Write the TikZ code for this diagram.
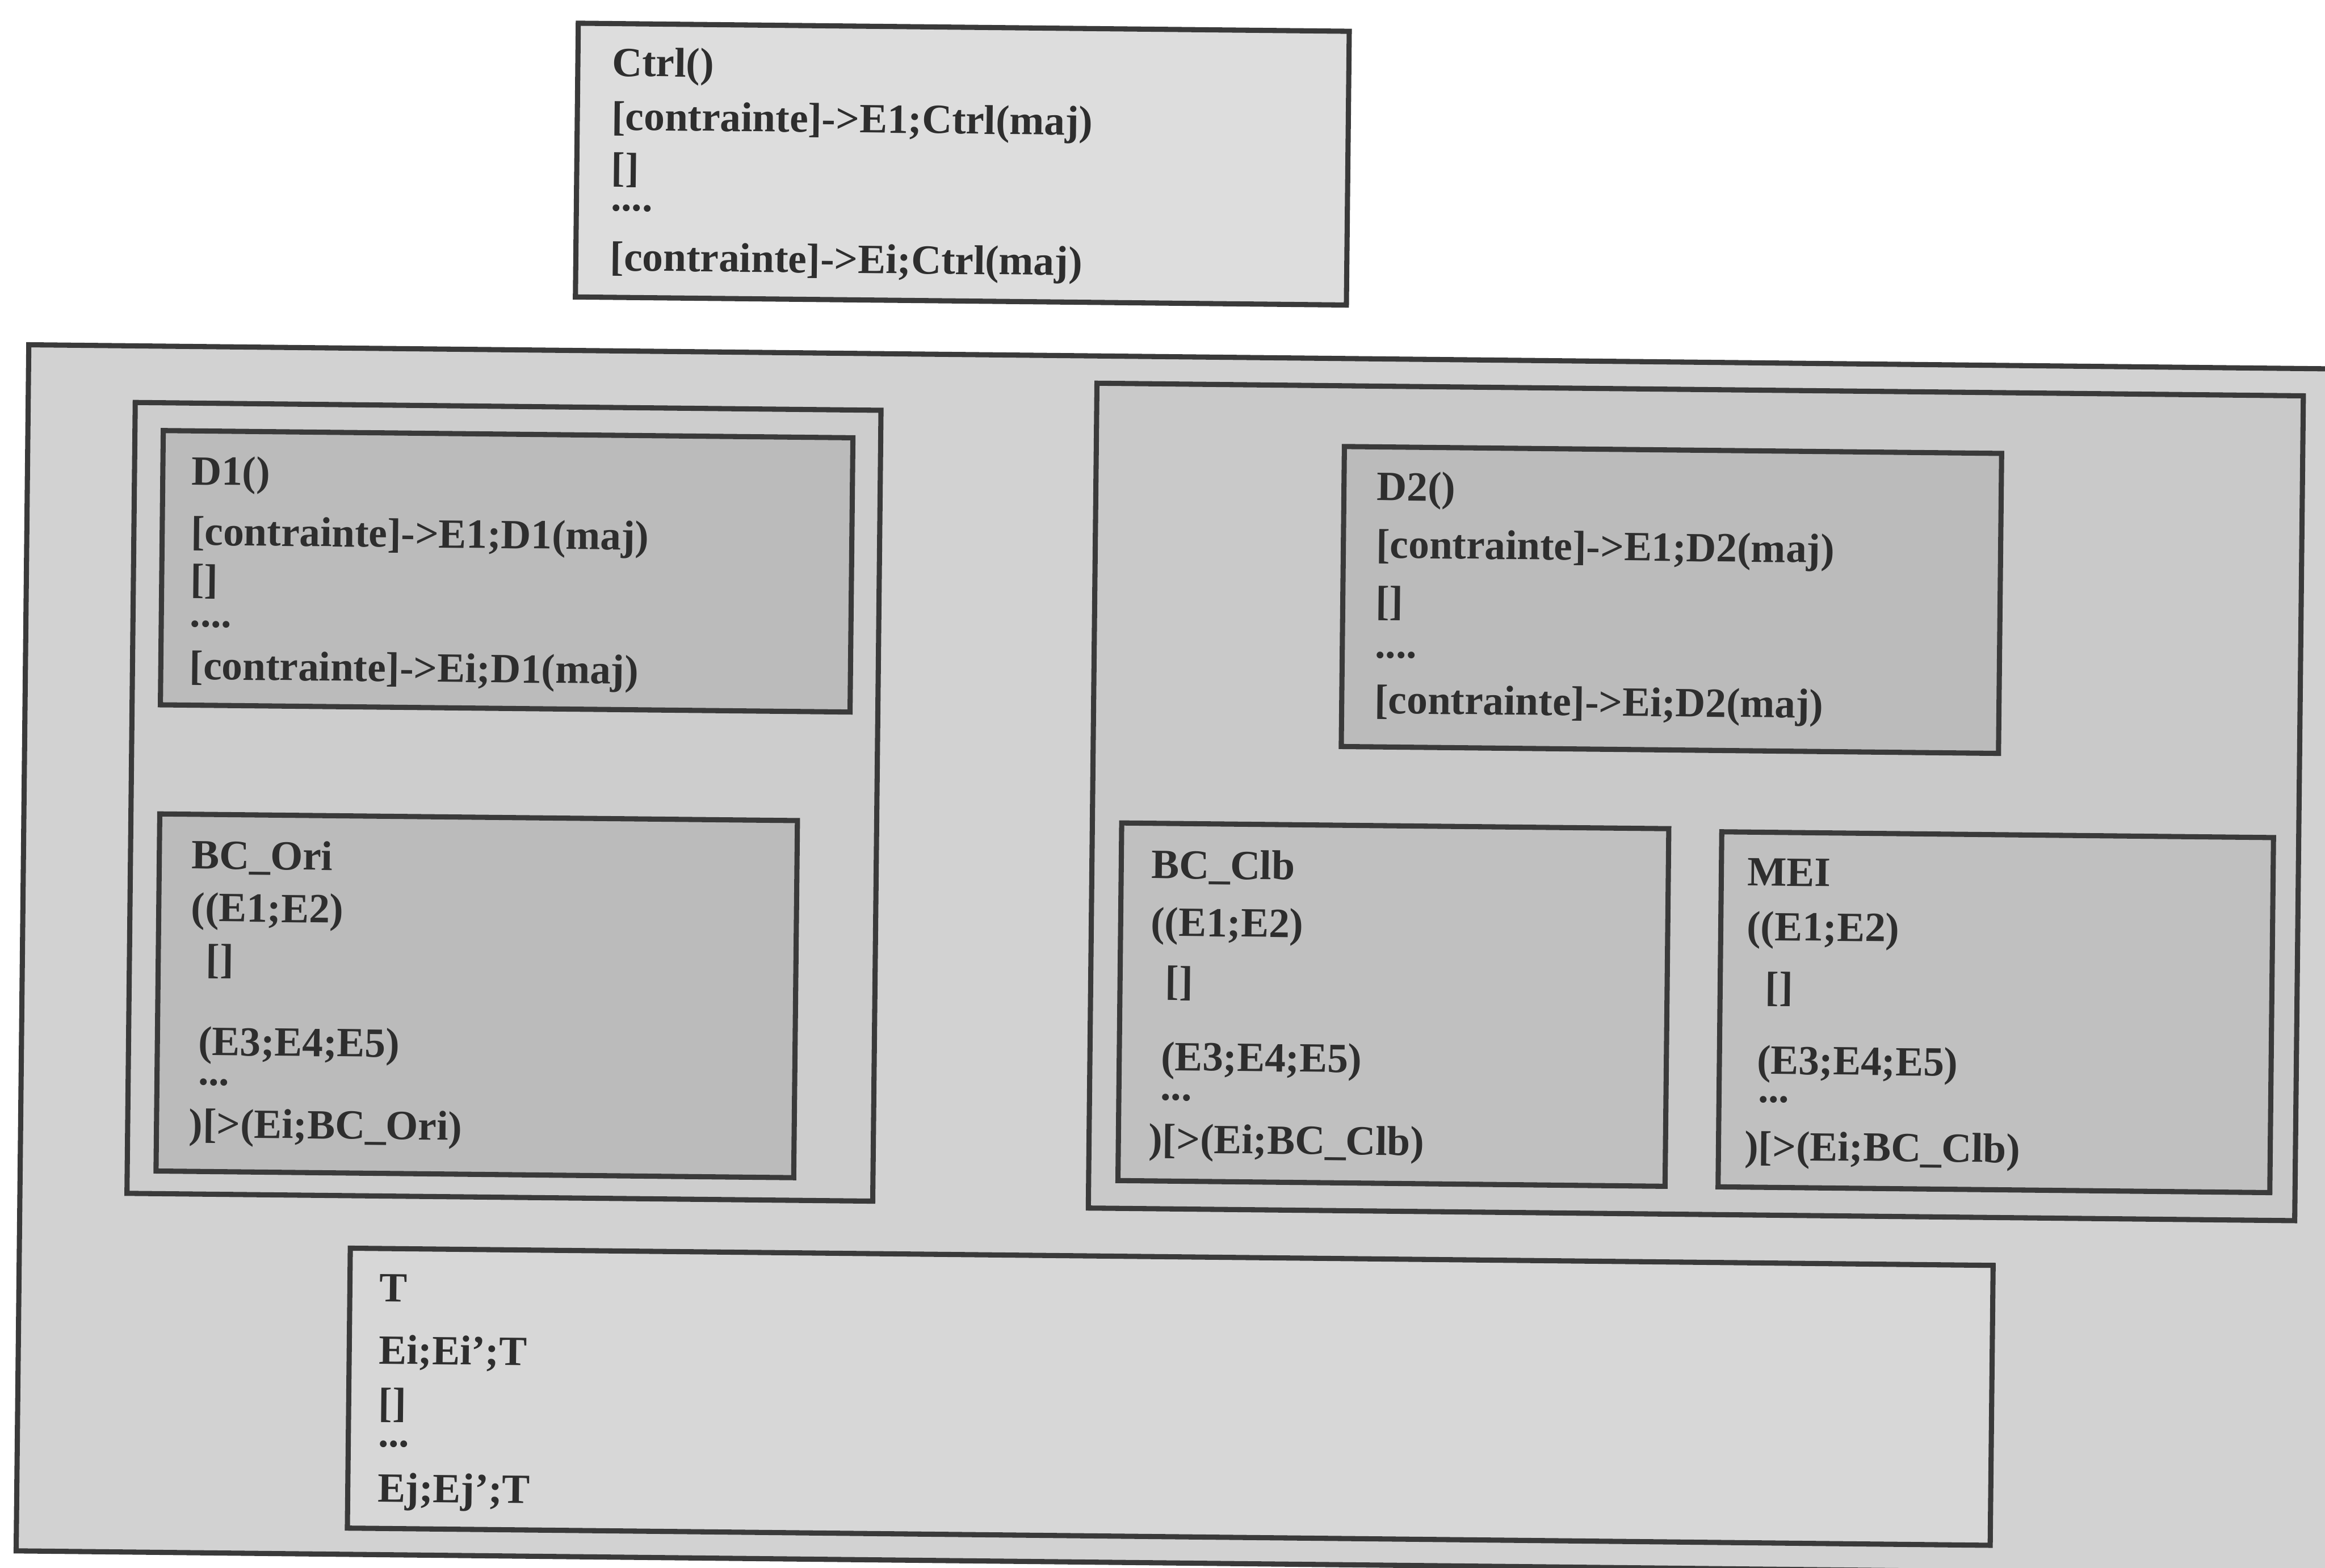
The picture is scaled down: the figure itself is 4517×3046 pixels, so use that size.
\documentclass[tikz,border=0pt]{standalone}
\usepackage{fontspec}
\setmainfont{Liberation Serif}
\definecolor{bord}{HTML}{3A3A3A}
\definecolor{inkc}{HTML}{2E2E2E}
\definecolor{fouter}{HTML}{D2D2D2}
\definecolor{fctrl}{HTML}{DDDDDD}
\definecolor{fleft}{HTML}{CDCDCD}
\definecolor{fright}{HTML}{C9C9C9}
\definecolor{fdark}{HTML}{BBBBBB}
\definecolor{fbc}{HTML}{C0C0C0}
\definecolor{ft}{HTML}{D7D7D7}
\tikzset{
  frame/.style={draw=bord, line width=1mm, inner sep=0pt, outer sep=0pt, anchor=north west, transform shape},
  txt/.style={font=\fontsize{23}{28}\selectfont\bfseries, text=inkc, inner sep=0pt, outer sep=0pt, anchor=base west, transform shape}
}
\begin{document}
\begin{tikzpicture}[x=0.1mm,y=-0.1mm]
\useasboundingbox (0,0) rectangle (4517,3046);
\clip (0,0) rectangle (4517,3046);
\begin{scope}[rotate around={-0.6:(2258,1523)}]
% boxes
\node[frame, fill=fouter, minimum width=455.3mm, minimum height=234.4mm] (outer) at (47,693) {};
\node[frame, fill=fleft,  minimum width=144.9mm, minimum height=153.7mm] (leftgrp) at (255,803) {};
\node[frame, fill=fright, minimum width=234.4mm, minimum height=160.3mm] (rightgrp) at (2123,746) {};
\node[frame, fill=ft,     minimum width=319.2mm, minimum height=54.4mm] (tbox) at (690,2442) {};
\node[frame, fill=fdark,  minimum width=134mm,   minimum height=53.3mm] (d1) at (310,857) {};
\node[frame, fill=fdark,  minimum width=123.9mm, minimum height=69.4mm] (bcori) at (311,1602) {};
\node[frame, fill=fdark,  minimum width=127.7mm, minimum height=58.3mm] (d2) at (2605,864) {};
\node[frame, fill=fbc,    minimum width=106.3mm, minimum height=69.5mm] (bcclb) at (2180,1600) {};
\node[frame, fill=fbc,    minimum width=107.2mm, minimum height=69mm]   (mei) at (3346,1605) {};
\node[frame, fill=fctrl,  minimum width=149.8mm, minimum height=53.2mm] (ctrl) at (1108,57) {};
% Ctrl
\node[txt] (ctrlA) at (1175,159) {Ctrl()};
\node[txt] (ctrlB) at (1175,264) {[contrainte]->E1;Ctrl(maj)};
\node[txt] (ctrlC) at (1175,364) {[]};
\node[txt] (ctrlD) at (1175,421) {....};
\node[txt] (ctrlE) at (1175,537) {[contrainte]->Ei;Ctrl(maj)};
% D1
\node[txt] (d1A) at (366,962) {D1()};
\node[txt] (d1B) at (366,1079) {[contrainte]->E1;D1(maj)};
\node[txt] (d1C) at (366,1172) {[]};
\node[txt] (d1D) at (366,1238) {....};
\node[txt] (d1E) at (366,1340) {[contrainte]->Ei;D1(maj)};
% D2
\node[txt] (d2A) at (2669,968) {D2()};
\node[txt] (d2B) at (2669,1080) {[contrainte]->E1;D2(maj)};
\node[txt] (d2C) at (2669,1190) {[]};
\node[txt] (d2D) at (2669,1274) {....};
\node[txt] (d2E) at (2669,1382) {[contrainte]->Ei;D2(maj)};
% BC_Ori
\node[txt] (boA) at (374,1708) {BC\_Ori};
\node[txt] (boB) at (374,1810) {((E1;E2)};
\node[txt] (boC) at (404,1910) {[]};
\node[txt] (boD) at (391,2070) {(E3;E4;E5)};
\node[txt] (boE) at (391,2128) {...};
\node[txt] (boF) at (374,2230) {)[>(Ei;BC\_Ori)};
% BC_Clb
\node[txt] (bcA) at (2239,1707) {BC\_Clb};
\node[txt] (bcB) at (2239,1819) {((E1;E2)};
\node[txt] (bcC) at (2268,1933) {[]};
\node[txt] (bcD) at (2261,2080) {(E3;E4;E5)};
\node[txt] (bcE) at (2261,2138) {...};
\node[txt] (bcF) at (2239,2240) {)[>(Ei;BC\_Clb)};
% MEI
\node[txt] (meA) at (3397,1709) {MEI};
\node[txt] (meB) at (3397,1815) {((E1;E2)};
\node[txt] (meC) at (3434,1932) {[]};
\node[txt] (meD) at (3419,2075) {(E3;E4;E5)};
\node[txt] (meE) at (3422,2130) {...};
\node[txt] (meF) at (3397,2242) {)[>(Ei;BC\_Clb)};
% T
\node[txt] (tA) at (748,2545) {T};
\node[txt] (tB) at (748,2666) {Ei;Ei’;T};
\node[txt] (tC) at (748,2769) {[]};
\node[txt] (tD) at (748,2827) {...};
\node[txt] (tE) at (748,2934) {Ej;Ej’;T};
\end{scope}
\end{tikzpicture}
\end{document}
